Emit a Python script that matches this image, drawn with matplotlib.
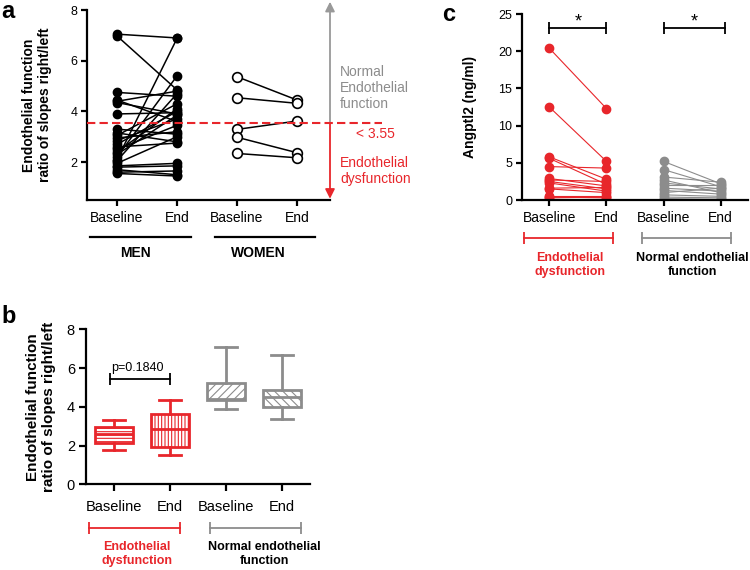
import matplotlib
matplotlib.use("Agg")
import matplotlib.pyplot as plt

plt.rcParams['font.family'] = ['Liberation Sans', 'DejaVu Sans']
plt.rcParams['hatch.linewidth'] = 0.8

RED = '#e8262b'
GRAY = '#8c8c8c'

# --- panel a: ratio of slopes, men / women
men_baseline = [7.05, 6.98, 4.75, 4.45, 4.40, 4.35, 3.90, 3.30, 3.15, 3.05, 2.95, 2.85, 2.70,
                2.60, 2.50, 2.40, 2.30, 2.20, 2.10, 2.05, 1.95, 1.85, 1.80, 1.70, 1.60, 1.55]
men_end = [6.90, 4.85, 4.60, 3.60, 4.80, 3.90, 3.95, 3.10, 2.80, 4.30, 3.20, 3.70, 4.00,
           2.75, 3.45, 4.10, 3.85, 5.40, 6.88, 4.70, 3.00, 1.95, 1.85, 1.50, 1.65, 1.45]
women_baseline = [5.37, 4.54, 3.29, 2.98, 2.34]
women_end = [4.45, 4.32, 3.62, 2.37, 2.17]
threshold = 3.55
tick_names = ['Baseline', 'End', 'Baseline', 'End']

# --- panel b: box plots by endothelial status
box_whislo = [1.77, 1.51, 3.89, 3.35]
box_q1 = [2.12, 1.94, 4.33, 4.00]
box_med = [2.58, 2.84, 4.39, 4.52]
box_q3 = [2.94, 3.63, 5.24, 4.87]
box_whishi = [3.32, 4.35, 7.07, 6.67]
box_colors = [RED, RED, GRAY, GRAY]
box_hatches = ['-----', '|||||', '////', '\\\\\\\\']

# --- panel c: Angptl2
dys_baseline = [20.4, 12.5, 5.8, 5.6, 4.5, 2.9, 2.7, 2.5, 2.3, 1.6, 1.5, 0.6, 0.4, 0.3]
dys_end = [12.3, 5.2, 2.8, 2.1, 4.3, 1.9, 2.5, 1.5, 1.2, 1.7, 1.0, 0.6, 0.3, 0.4]
norm_baseline = [5.2, 4.1, 3.1, 2.7, 2.3, 2.0, 1.6, 1.3, 1.0, 0.7, 0.4, 0.2]
norm_end = [2.2, 1.8, 2.4, 1.0, 1.5, 2.0, 1.2, 0.8, 1.6, 0.5, 0.3, 0.1]

positions = [1, 2, 3, 4]


def style_axis(ax, ticksize, length=4):
    for s in ['top', 'right']:
        ax.spines[s].set_visible(False)
    for s in ['left', 'bottom']:
        ax.spines[s].set_linewidth(1.6)
    ax.tick_params(width=1.6, length=length, labelsize=ticksize, pad=3)
    ax.tick_params(axis='x', labelsize=10, pad=4)


def group_bar(ax, x0, x1, y, color, caps=True, lw=1.3):
    tr = ax.get_xaxis_transform()
    ax.plot([x0, x1], [y, y], color=color, lw=lw, transform=tr, clip_on=False)
    if caps:
        ax.plot([x0, x1], [y, y], ls='none', marker='|', ms=8, mew=lw,
                color=color, transform=tr, clip_on=False)


fig = plt.figure(figsize=(7.5, 5.7), dpi=100)

# ================= panel a
ax = fig.add_axes([0.116, 0.649, 0.324, 0.3333])
for b, e in zip(men_baseline, men_end):
    ax.plot([1, 2], [b, e], '-o', color='black', ms=6, lw=1.1)
for b, e in zip(women_baseline, women_end):
    ax.plot([3, 4], [b, e], '-o', color='black', mfc='white', mew=1.2, ms=7, lw=1.1)
ax.plot([0.5, 5.42], [threshold, threshold], '--', color=RED, lw=1.5,
        dashes=(4, 2), clip_on=False, zorder=5)
ax.set_xlim(0.5, 4.55)
ax.set_ylim(0.5, 8)
ax.set_yticks([2, 4, 6, 8])
ax.set_xticks(positions)
ax.set_xticklabels(tick_names)
style_axis(ax, 9)
ax.set_ylabel('Endothelial function\nratio of slopes right/left', fontsize=10, fontweight='bold')
ax.yaxis.set_label_coords(-0.144, 0.5)
ax.annotate('', xy=(4.55, 8.33), xytext=(4.55, threshold), annotation_clip=False,
            arrowprops=dict(arrowstyle='-|>', color='#999999', lw=1.3, mutation_scale=14,
                            shrinkA=0, shrinkB=0))
ax.annotate('', xy=(4.55, 0.55), xytext=(4.55, threshold - 0.05), annotation_clip=False,
            arrowprops=dict(arrowstyle='-|>', color=RED, lw=1.3, mutation_scale=14,
                            shrinkA=0, shrinkB=0))
ax.text(4.72, 4.92, 'Normal\nEndothelial\nfunction', color=GRAY, fontsize=10,
        ha='left', va='center', linespacing=1.15)
ax.text(4.98, 3.1, '< 3.55', color=RED, fontsize=10, ha='left', va='center')
ax.text(4.72, 1.64, 'Endothelial\ndysfunction', color=RED, fontsize=10,
        ha='left', va='center', linespacing=1.15)
group_bar(ax, 0.55, 2.24, -0.195, 'black', caps=False, lw=1.6)
group_bar(ax, 2.63, 4.30, -0.195, 'black', caps=False, lw=1.6)
tr = ax.get_xaxis_transform()
ax.text(1.3, -0.279, 'MEN', transform=tr, ha='center', va='center', fontsize=10, fontweight='bold')
ax.text(3.35, -0.279, 'WOMEN', transform=tr, ha='center', va='center', fontsize=10, fontweight='bold')

# ================= panel b
ax = fig.add_axes([0.1147, 0.1504, 0.2987, 0.2719])
stats = [dict(whislo=lo, q1=q1, med=md, q3=q3, whishi=hi, fliers=[])
         for lo, q1, md, q3, hi in zip(box_whislo, box_q1, box_med, box_q3, box_whishi)]
bp = ax.bxp(stats, positions=positions, widths=0.68, capwidths=0.4,
            patch_artist=True, showfliers=False)
for i, col in enumerate(box_colors):
    box = bp['boxes'][i]
    box.set_facecolor('white')
    box.set_edgecolor(col)
    box.set_hatch(box_hatches[i])
    box.set_linewidth(2)
    for art in bp['whiskers'][2 * i:2 * i + 2] + bp['caps'][2 * i:2 * i + 2]:
        art.set_color(col)
        art.set_linewidth(2)
    bp['medians'][i].set_color(col)
    bp['medians'][i].set_linewidth(2)
ax.set_xlim(0.5, 4.5)
ax.set_ylim(0, 8)
ax.set_yticks([0, 2, 4, 6, 8])
ax.set_xticks(positions)
ax.set_xticklabels(tick_names)
style_axis(ax, 10.5, length=5)
ax.tick_params(axis='x', labelsize=10.5, pad=6)
ax.set_ylabel('Endothelial function\nratio of slopes right/left', fontsize=11, fontweight='bold')
ax.yaxis.set_label_coords(-0.134, 0.5)
ax.plot([0.92, 2.0], [5.43, 5.43], color='black', lw=1.3)
ax.plot([0.92, 2.0], [5.43, 5.43], ls='none', marker='|', ms=8, mew=1.3, color='black')
ax.text(1.42, 5.7, 'p=0.1840', fontsize=9, ha='center', va='bottom')
group_bar(ax, 0.554, 2.18, -0.282, RED)
group_bar(ax, 2.71, 4.34, -0.282, GRAY)
tr = ax.get_xaxis_transform()
ax.text(1.41, -0.45, 'Endothelial\ndysfunction', transform=tr, color=RED, ha='center',
        va='center', fontsize=9, fontweight='bold', linespacing=1.2)
ax.text(3.68, -0.45, 'Normal endothelial\nfunction', transform=tr, color='black', ha='center',
        va='center', fontsize=9, fontweight='bold', linespacing=1.2)

# ================= panel c
ax = fig.add_axes([0.696, 0.649, 0.3013, 0.3263])
for b, e in zip(dys_baseline, dys_end):
    ax.plot([1, 2], [b, e], '-o', color=RED, ms=6, lw=0.8)
for b, e in zip(norm_baseline, norm_end):
    ax.plot([3, 4], [b, e], '-o', color=GRAY, ms=6, lw=0.8)
ax.set_xlim(0.52, 4.48)
ax.set_ylim(0, 25)
ax.set_yticks([0, 5, 10, 15, 20, 25])
ax.set_xticks(positions)
ax.set_xticklabels(tick_names)
style_axis(ax, 9)
ax.set_ylabel('Angptl2 (ng/ml)', fontsize=10, fontweight='bold')
ax.yaxis.set_label_coords(-0.2, 0.5)
for x0, x1 in [(1, 2), (3, 4.08)]:
    ax.plot([x0, x1], [23.16, 23.16], color='black', lw=1.3, clip_on=False)
    ax.plot([x0, x1], [23.16, 23.16], ls='none', marker='|', ms=9, mew=1.3,
            color='black', clip_on=False)
    ax.text((x0 + x1) / 2, 24.0, '*', fontsize=13, ha='center', va='center', clip_on=False)
group_bar(ax, 0.555, 2.11, -0.203, RED)
group_bar(ax, 2.62, 4.19, -0.203, GRAY)
tr = ax.get_xaxis_transform()
ax.text(1.36, -0.35, 'Endothelial\ndysfunction', transform=tr, color=RED, ha='center',
        va='center', fontsize=9, fontweight='bold', linespacing=1.2)
ax.text(3.51, -0.35, 'Normal endothelial\nfunction', transform=tr, color='black', ha='center',
        va='center', fontsize=9, fontweight='bold', linespacing=1.2)

# panel letters
fig.text(0.002, 1.0, 'a', fontsize=17, fontweight='bold', va='top', ha='left')
fig.text(0.002, 0.465, 'b', fontsize=17, fontweight='bold', va='top', ha='left')
fig.text(0.59, 0.995, 'c', fontsize=17, fontweight='bold', va='top', ha='left')

fig.savefig('out.png', dpi=100)
